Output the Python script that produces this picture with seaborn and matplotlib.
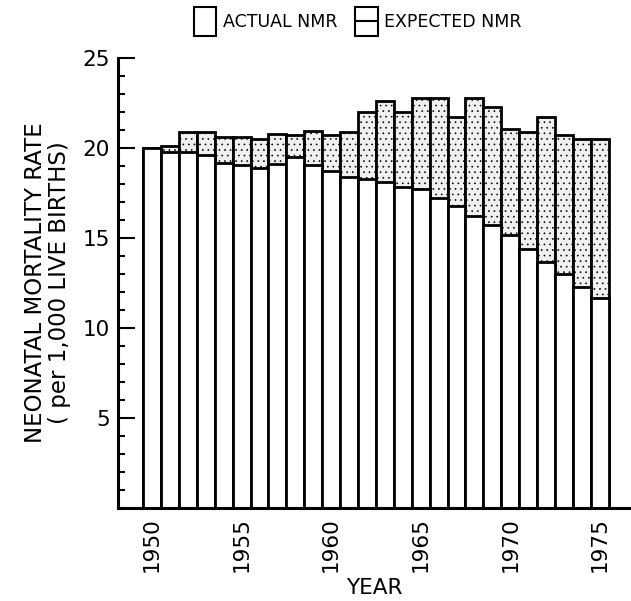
import seaborn as sns
import matplotlib.pyplot as plt
from matplotlib.patches import Patch, Rectangle
from matplotlib.lines import Line2D
from matplotlib.legend_handler import HandlerBase
from matplotlib.ticker import MultipleLocator

years = list(range(1950, 1976))
actual_nmr = [20.0, 20.1, 20.9, 20.9, 20.6, 20.6, 20.5, 20.75, 20.7, 20.95,
              20.7, 20.9, 22.0, 22.6, 22.0, 22.8, 22.8, 21.7, 22.75, 22.3,
              21.05, 20.9, 21.7, 20.7, 20.5, 20.5]
expected_nmr = [20.0, 19.8, 19.8, 19.6, 19.15, 19.05, 18.9, 19.1, 19.5, 19.05,
                18.7, 18.4, 18.25, 18.1, 17.85, 17.7, 17.2, 16.8, 16.2, 15.7,
                15.15, 14.4, 13.65, 13.0, 12.3, 11.65]
year_ticks = [1950, 1955, 1960, 1965, 1970, 1975]


class BoxHandler(HandlerBase):
    # tall open box, optionally split by a line across the middle
    def __init__(self, midline=False):
        super().__init__()
        self.midline = midline

    def create_artists(self, legend, orig_handle, xdescent, ydescent,
                       width, height, fontsize, trans):
        box = Rectangle((-xdescent, -ydescent), width, height,
                        facecolor="white", edgecolor="black", linewidth=1.5,
                        transform=trans)
        artists = [box]
        if self.midline:
            y = -ydescent + height / 2
            artists.append(Line2D([-xdescent, -xdescent + width], [y, y],
                                  color="black", linewidth=1.5,
                                  transform=trans))
        return artists


sns.set_style("ticks")
plt.rcParams['font.family'] = ['DejaVu Sans']
plt.rcParams['hatch.linewidth'] = 0.45
for key in ['text.color', 'axes.labelcolor', 'xtick.color', 'ytick.color',
            'axes.edgecolor']:
    plt.rcParams[key] = 'black'

fig = plt.figure(figsize=(6.31, 6.01), dpi=100)
ax = fig.add_axes([0.187, 0.155, 0.811, 0.7485])

# actual NMR: full bar, stippled top shows excess over expected
sns.barplot(x=years, y=actual_nmr, native_scale=True, width=1, ax=ax,
            color="#f0f0f0", saturation=1, edgecolor="black", linewidth=2,
            hatch="...", errorbar=None)
# expected NMR: white lower part
sns.barplot(x=years, y=expected_nmr, native_scale=True, width=1, ax=ax,
            color="white", saturation=1, edgecolor="black", linewidth=2,
            errorbar=None)

ax.set_xlim(1948.1, 1976.67)
ax.set_ylim(0, 25)
ax.set_yticks([5, 10, 15, 20, 25])
ax.yaxis.set_minor_locator(MultipleLocator(1))
ax.tick_params(axis='y', which='major', direction='in', length=12, width=1.5,
               labelsize=15.5, pad=6)
ax.tick_params(axis='y', which='minor', direction='in', length=5, width=1.5)
ax.set_xticks(year_ticks)
ax.set_xticklabels([str(y) for y in year_ticks], rotation=90)
ax.tick_params(axis='x', length=0, labelsize=15.5, pad=7)

ax.set_xlabel("YEAR", fontsize=15.5, labelpad=4)
ax.set_ylabel("NEONATAL MORTALITY RATE\n( per 1,000 LIVE BIRTHS)",
              fontsize=16.5, linespacing=1.05, labelpad=8)

sns.despine(ax=ax)
for side in ["left", "bottom"]:
    ax.spines[side].set_linewidth(2.2)

h_actual = Patch(label="ACTUAL NMR")
h_expected = Patch(label="EXPECTED NMR")
fig.legend([h_actual, h_expected], ["ACTUAL NMR", "EXPECTED NMR"],
           loc="upper center", bbox_to_anchor=(0.567, 1.0), ncol=2,
           frameon=False, fontsize=12.5, handlelength=1.3, handleheight=2.2,
           handletextpad=0.4, columnspacing=1.0, borderaxespad=0.0,
           handler_map={h_actual: BoxHandler(False),
                        h_expected: BoxHandler(True)})

fig.savefig("out.png", dpi=100)
